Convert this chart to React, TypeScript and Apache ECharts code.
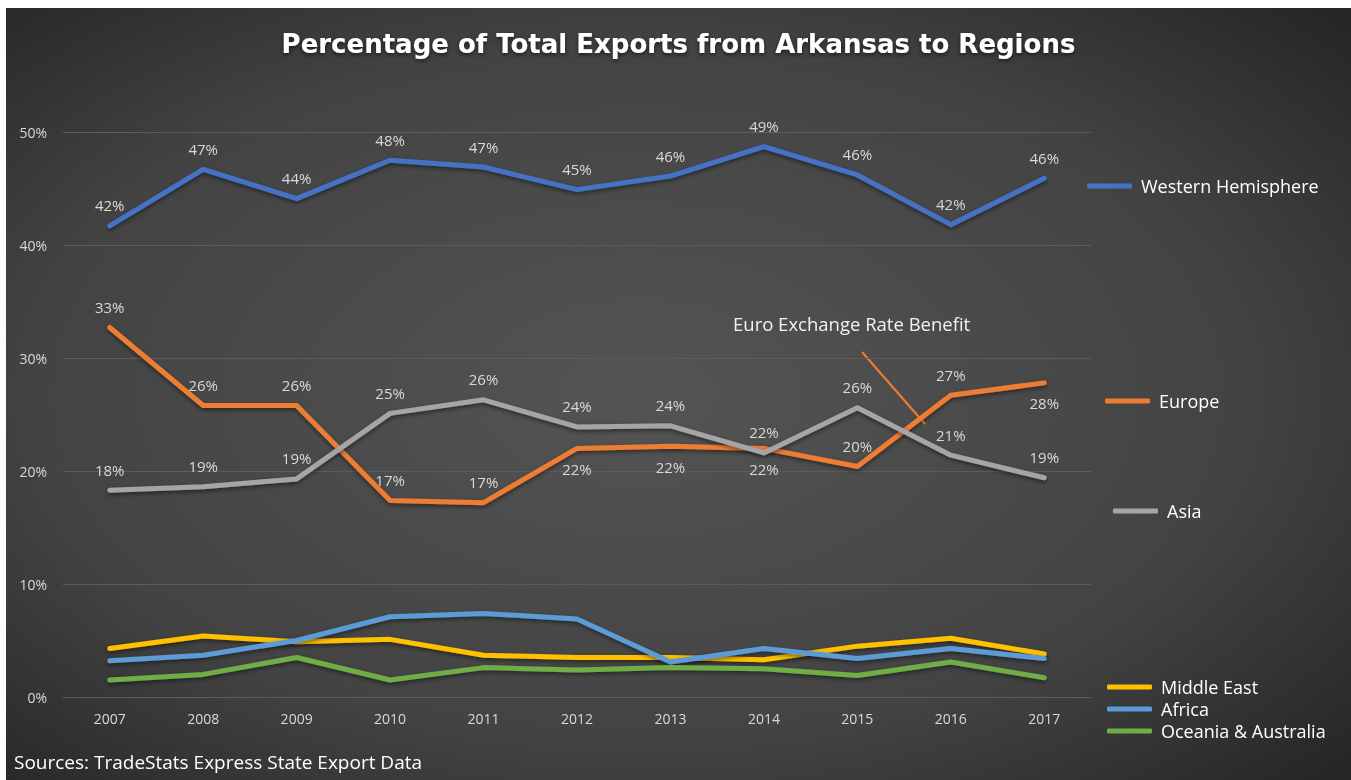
import React, { useEffect, useRef } from "react";
import * as echarts from "echarts";

const years = ["2007", "2008", "2009", "2010", "2011", "2012", "2013", "2014", "2015", "2016", "2017"];
const westernHemisphere = [41.7, 46.7, 44.1, 47.5, 46.9, 44.9, 46.1, 48.7, 46.2, 41.8, 45.9];
const europe = [32.7, 25.8, 25.8, 17.4, 17.2, 22.0, 22.2, 22.0, 20.4, 26.7, 27.8];
const asia = [18.3, 18.6, 19.3, 25.1, 26.3, 23.9, 24.0, 21.6, 25.6, 21.4, 19.4];
const middleEast = [4.3, 5.4, 4.9, 5.1, 3.7, 3.5, 3.5, 3.3, 4.5, 5.2, 3.8];
const africa = [3.2, 3.7, 5.0, 7.1, 7.4, 6.9, 3.1, 4.3, 3.4, 4.3, 3.4];
const oceania = [1.5, 2.0, 3.5, 1.5, 2.6, 2.4, 2.6, 2.5, 1.9, 3.1, 1.7];
const yTicks = [0, 10, 20, 30, 40, 50];

const europeBelow = [5, 6, 7, 10];

const FONT = "'Open Sans', 'Noto Sans', sans-serif";

export default function App() {
  const ref = useRef<HTMLDivElement>(null);
  useEffect(() => {
    if (!ref.current) return;
    const chart = echarts.init(ref.current, undefined, { renderer: "svg" });
    const labelStyle = {
      show: true,
      color: "#d9d9d9",
      fontSize: 15,
      fontFamily: FONT,
      distance: 13,
      formatter: (p: any) => Math.round(p.value) + "%",
    };
    const mk = (name: string, data: number[], color: string, labeled: boolean, below: number[] = []) => ({
      name,
      type: "line",
      data: data.map((v, i) =>
        below.includes(i) ? { value: v, label: { position: "bottom" } } : { value: v }
      ),
      symbol: "circle",
      symbolSize: 0,
      showSymbol: true,
      itemStyle: { color },
      lineStyle: {
        color,
        width: 5,
        cap: "round",
        join: "round",
        shadowColor: "rgba(0,0,0,0.5)",
        shadowBlur: 4,
        shadowOffsetY: 2,
      },
      label: labeled ? { ...labelStyle, position: "top" } : { show: false },
      emphasis: { disabled: true },
    });
    const legendBase = {
      orient: "vertical",
      itemWidth: 45,
      itemHeight: 5,
      itemGap: 0,
      padding: 0,
      icon: "roundRect",
      textStyle: { color: "#ffffff", fontSize: 18, fontFamily: FONT, padding: [0, 0, 0, 4], lineHeight: 22 },
      selectedMode: false,
    };
    chart.setOption({
      animation: false,
      backgroundColor: new echarts.graphic.RadialGradient(0.47, 0.5, 0.75, [
        { offset: 0, color: "#545454" },
        { offset: 0.6, color: "#434343" },
        { offset: 1, color: "#222222" },
      ]),
      title: {
        text: "Percentage of Total Exports from Arkansas to Regions",
        left: "center",
        top: 18,
        textStyle: {
          color: "#ffffff",
          fontSize: 26,
          fontWeight: "bold",
          fontFamily: "'DejaVu Sans', sans-serif",
          textShadowColor: "rgba(0,0,0,0.6)",
          textShadowBlur: 4,
          textShadowOffsetY: 2,
        },
      },
      grid: { left: 57, right: 260, top: 124, bottom: 83 },
      xAxis: {
        type: "category",
        data: years,
        boundaryGap: true,
        axisLine: { show: false },
        axisTick: { show: false },
        axisLabel: { color: "#d9d9d9", fontSize: 14, fontFamily: FONT, margin: 14 },
      },
      yAxis: {
        type: "value",
        min: yTicks[0],
        max: yTicks[yTicks.length - 1],
        interval: 10,
        axisLine: { show: false },
        axisTick: { show: false },
        axisLabel: { color: "#d9d9d9", fontSize: 14, fontFamily: FONT, margin: 16, formatter: "{value}%" },
        splitLine: { lineStyle: { color: "#5c5c5c", width: 1 } },
      },
      legend: [
        { ...legendBase, data: ["Western Hemisphere"], left: 1081, top: 167 },
        { ...legendBase, data: ["Europe"], left: 1099, top: 382 },
        { ...legendBase, data: ["Asia"], left: 1107, top: 492 },
        { ...legendBase, data: ["Middle East", "Africa", "Oceania & Australia"], left: 1101, top: 668 },
      ],
      series: [
        mk("Western Hemisphere", westernHemisphere, "#4472c4", true),
        mk("Europe", europe, "#ed7d31", true, europeBelow),
        mk("Asia", asia, "#a5a5a5", true),
        mk("Middle East", middleEast, "#ffc000", false),
        mk("Africa", africa, "#5b9bd5", false),
        mk("Oceania & Australia", oceania, "#70ad47", false),
      ],
      graphic: [
        {
          type: "text",
          left: 727,
          top: 306,
          style: { text: "Euro Exchange Rate Benefit", fill: "#f2f2f2", fontSize: 18.5, fontFamily: FONT },
        },
        {
          type: "line",
          shape: { x1: 856, y1: 344, x2: 919, y2: 416 },
          style: { stroke: "#ed7d31", lineWidth: 2 },
        },
        {
          type: "text",
          left: 8,
          top: 744,
          style: {
            text: "Sources: TradeStats Express State Export Data",
            fill: "#ffffff",
            fontSize: 19,
            fontFamily: FONT,
          },
        },
      ],
    });
    return () => chart.dispose();
  }, []);
  return (
    <div
      ref={ref}
      style={{ position: "fixed", left: 6, top: 8, width: 1345, height: 772 }}
    />
  );
}
